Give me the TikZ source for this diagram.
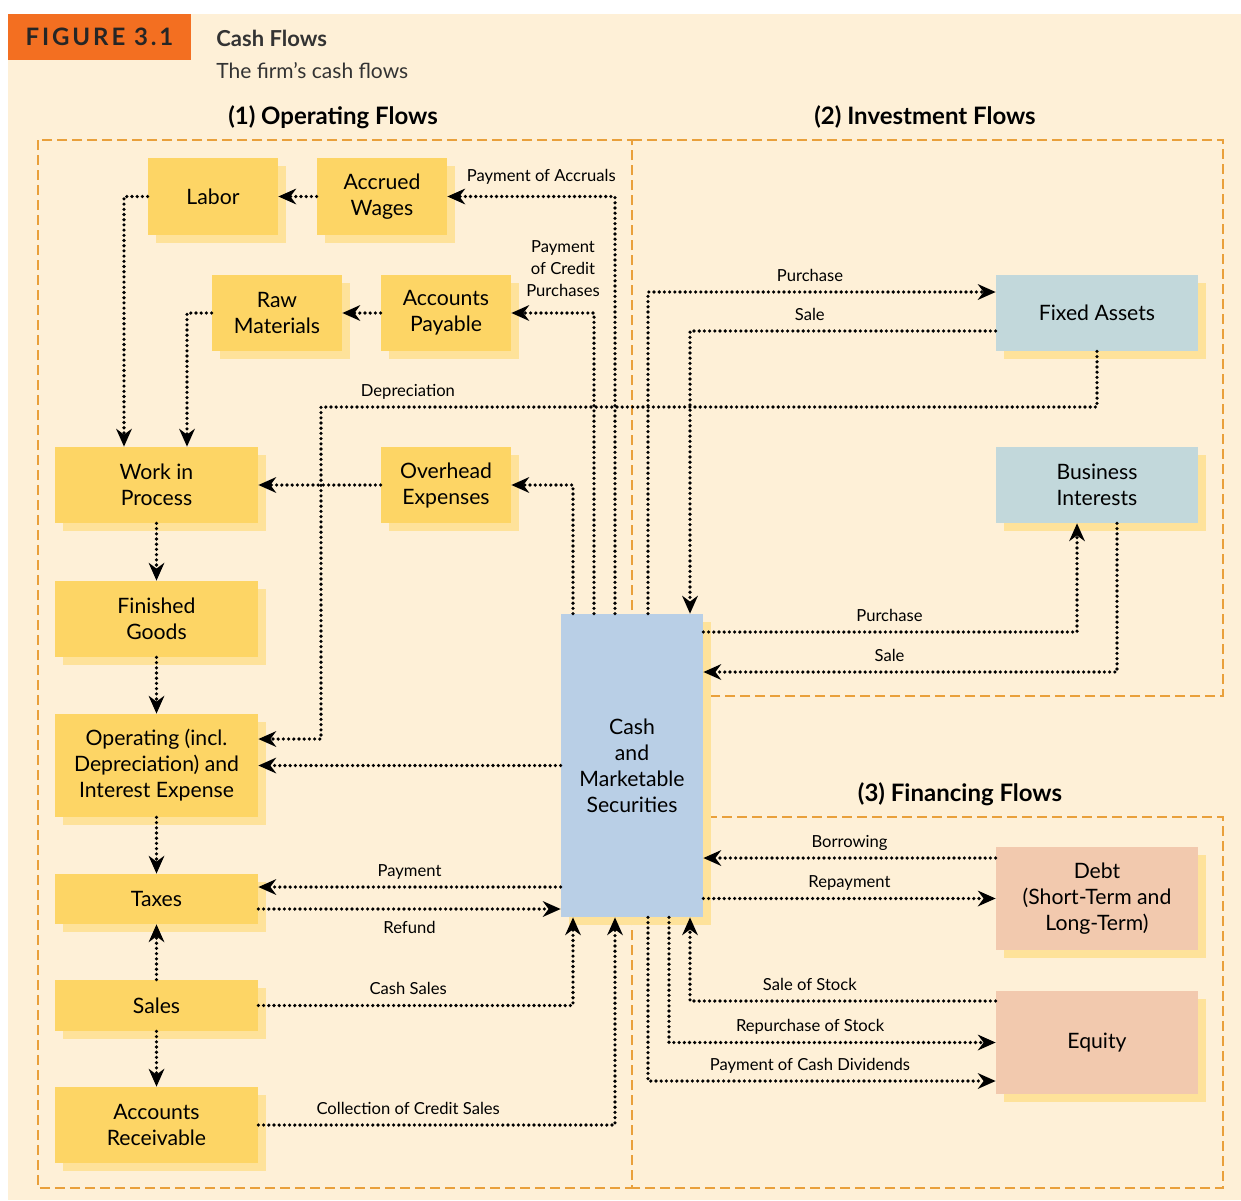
\documentclass[tikz,border=0pt]{standalone}
\usepackage{fontspec}
\setmainfont{Lato}
\usepackage{tikz}
\usetikzlibrary{arrows.meta,shadows}
\definecolor{cream}{HTML}{FEF0D7}
\definecolor{figorange}{HTML}{F36F21}
\definecolor{regionline}{HTML}{E9A03B}
\definecolor{boxyellow}{HTML}{FDD565}
\definecolor{boxshade}{HTML}{FEE29A}
\definecolor{cashblue}{HTML}{B9CFE6}
\definecolor{invgrey}{HTML}{C2D8DB}
\definecolor{finsalmon}{HTML}{F2C9AE}
\definecolor{inkgrey}{HTML}{333333}

\begin{document}
\begin{tikzpicture}[x=0.5pt,y=-0.5pt,
  anybox/.style={inner sep=0pt, align=center, font=\fontsize{10.6}{13}\selectfont,
    drop shadow={shadow xshift=4pt,shadow yshift=-4pt,fill=boxshade,opacity=1}},
  ybox/.style={anybox, fill=boxyellow},
  cbox/.style={anybox, fill=cashblue},
  ibox/.style={anybox, fill=invgrey},
  fbox/.style={anybox, fill=finsalmon},
  flow/.style={line width=1.8pt, dash pattern=on 0pt off 2.6pt, line cap=round,
    -{Stealth[length=9pt,width=8pt,inset=3pt,line width=0pt]}},
  lbl/.style={font=\fontsize{8.3}{11}\selectfont, inner sep=0pt, anchor=base, yshift=5.5pt},
  region/.style={regionline, line width=1.3pt, dash pattern=on 5pt off 2.5pt},
  head/.style={font=\fontsize{12}{14}\selectfont\bfseries, anchor=base}]
\useasboundingbox (0,0) rectangle (1241,1200);
\fill[cream] (8,14) rectangle (1241,1200);

% title
\node (fig) at (99.5,37) [fill=figorange, minimum width=91.5pt, minimum height=23pt, inner sep=0pt,
  font=\fontsize{12}{14}\selectfont\bfseries\addfontfeatures{LetterSpace=12}, text=black!85] {FIGURE 3.1};
\node (ttl) at (216,46) [anchor=base west, inner sep=0pt, font=\fontsize{11}{13}\selectfont\bfseries, text=inkgrey] {Cash Flows};
\node (sub) at (216,78) [anchor=base west, inner sep=0pt, font=\fontsize{10.5}{13}\selectfont, text=inkgrey] {The firm’s cash flows};

% the three regions
\draw[region] (38,140) rectangle (632,1188);
\draw[region] (632,140) -- (1223,140) -- (1223,696) -- (632,696);
\draw[region] (632,817) -- (1223,817) -- (1223,1188) -- (632,1188);
\node (h1) at (333,124) [head] {(1) Operating Flows};
\node (h2) at (925,124) [head] {(2) Investment Flows};
\node (h3) at (960,801) [head] {(3) Financing Flows};

% operating
\node (labor) at (213,196.5) [ybox, minimum width=65pt, minimum height=38.5pt] {Labor};
\node (accr) at (382,196.5) [ybox, minimum width=65pt, minimum height=38.5pt] {Accrued\\Wages};
\node (raw) at (277,313) [ybox, minimum width=65pt, minimum height=38pt] {Raw\\Materials};
\node (ap) at (446,313) [ybox, minimum width=65pt, minimum height=38pt] {Accounts\\Payable};
\node (wip) at (156.5,485) [ybox, minimum width=101.5pt, minimum height=38pt] {Work in\\Process};
\node (ovh) at (446,485) [ybox, minimum width=65pt, minimum height=38pt] {Overhead\\Expenses};
\node (fin) at (156.5,619) [ybox, minimum width=101.5pt, minimum height=38pt] {Finished\\Goods};
\node (opx) at (156.5,765.5) [ybox, minimum width=101.5pt, minimum height=51.5pt] {Operating (incl.\\Depreciation) and\\Interest Expense};
\node (tax) at (156.5,899) [ybox, minimum width=101.5pt, minimum height=25pt] {Taxes};
\node (sales) at (156.5,1005.5) [ybox, minimum width=101.5pt, minimum height=25.5pt] {Sales};
\node (ar) at (156.5,1125) [ybox, minimum width=101.5pt, minimum height=38pt] {Accounts\\Receivable};

\node (cash) at (632,765.5) [cbox, minimum width=71pt, minimum height=151.5pt] {Cash\\and\\Marketable\\Securities};

% investment and financing
\node (fixed) at (1097,313) [ibox, minimum width=101pt, minimum height=38pt] {Fixed Assets};
\node (bus) at (1097,485) [ibox, minimum width=101pt, minimum height=38pt] {Business\\Interests};
\node (debt) at (1097,898.5) [fbox, minimum width=101pt, minimum height=51.5pt] {Debt\\(Short-Term and\\Long-Term)};
\node (eq) at (1097,1042.5) [fbox, minimum width=101pt, minimum height=51.5pt] {Equity};

\coordinate (deprbend) at (321,407);

% operating flows
\draw[flow] (accr.west) -- (labor.east);
\draw[flow] (labor.west) -| ([xshift=-16.25pt]wip.north);
\draw[flow] (ap.west) -- (raw.east);
\draw[flow] (raw.west) -| ([xshift=15.25pt]wip.north);
\draw[flow] ([xshift=-8.5pt]cash.north) |- node[lbl, pos=0.72, yshift=2pt] {Payment of Accruals} (accr.east);
\draw[flow] ([xshift=-19pt]cash.north) |- (ap.east);
\node (pcp) at (563,269) [font=\fontsize{8.3}{11}\selectfont, align=center, inner sep=0pt] {Payment\\of Credit\\Purchases};
\draw[flow] (ovh.west) -- (wip.east);
\draw[flow] ([xshift=-29.5pt]cash.north) |- (ovh.east);
\draw[flow] (wip.south) -- (fin.north);
\draw[flow] (fin.south) -- (opx.north);
\draw[flow] (fixed.south) |- node[lbl, pos=0.944] {Depreciation} (deprbend) |- ([yshift=13.25pt]opx.east);
\draw[flow] (cash.west) -- (opx.east);
\draw[flow] (opx.south) -- (tax.north);
\draw[flow] ([yshift=6pt]tax.east -| cash.west) -- node[lbl] {Payment} ([yshift=6pt]tax.east);
\draw[flow] ([yshift=-5pt]tax.east) -- node[lbl, yshift=-17.5pt] {Refund} ([yshift=-5pt]tax.east -| cash.west);
\draw[flow] (sales.north) -- (tax.south);
\draw[flow] (sales.south) -- (ar.north);
\draw[flow] (sales.east) -| node[lbl, pos=0.238] {Cash Sales} ([xshift=-29.5pt]cash.south);
\draw[flow] (ar.east) -| node[lbl, pos=0.21] {Collection of Credit Sales} ([xshift=-8.5pt]cash.south);

% investment flows
\draw[flow] ([xshift=8pt]cash.north) |- node[lbl, pos=0.733] {Purchase} ([yshift=10.5pt]fixed.west);
\draw[flow] ([yshift=-9pt]fixed.west) -| node[lbl, pos=0.304] {Sale} ([xshift=29pt]cash.north);
\draw[flow] ([yshift=66.75pt]cash.east) -| node[lbl, pos=0.249] {Purchase} ([xshift=-10pt]bus.south);
\draw[flow] ([xshift=10pt]bus.south) |- node[lbl, pos=0.775] {Sale} ([yshift=46.75pt]cash.east);

% financing flows
\draw[flow] ([yshift=20.25pt]debt.west) -- node[lbl] {Borrowing} ([yshift=20.25pt]debt.west -| cash.east);
\draw[flow] (debt.west -| cash.east) -- node[lbl] {Repayment} (debt.west);
\draw[flow] ([yshift=20.75pt]eq.west) -| node[lbl, pos=0.304] {Sale of Stock} ([xshift=29pt]cash.south);
\draw[flow] ([xshift=18.5pt]cash.south) |- node[lbl, pos=0.716] {Repurchase of Stock} (eq.west);
\draw[flow] ([xshift=8pt]cash.south) |- node[lbl, pos=0.733] {Payment of Cash Dividends} ([yshift=-19.25pt]eq.west);
\end{tikzpicture}
\end{document}
